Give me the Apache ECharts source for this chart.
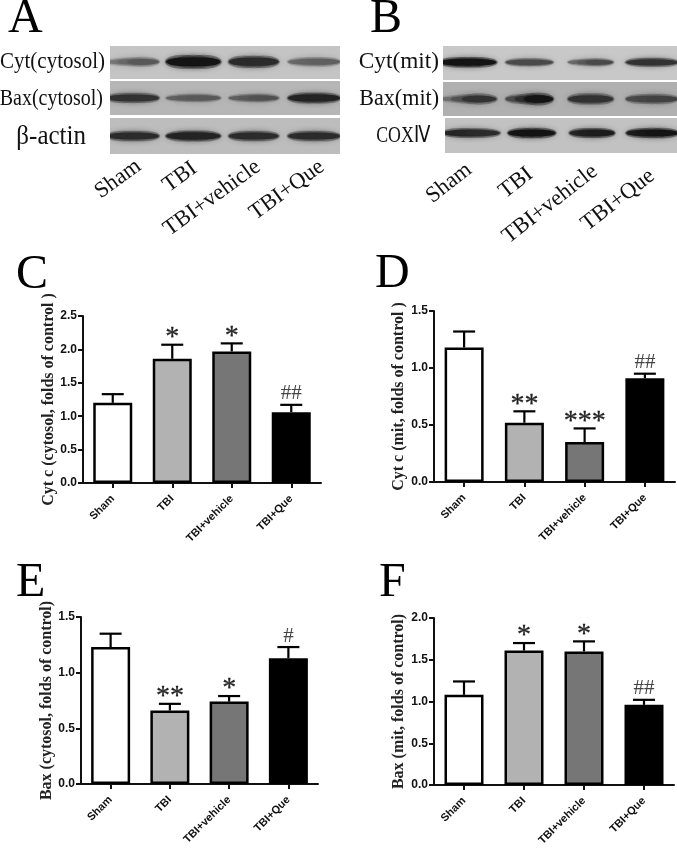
<!DOCTYPE html>
<html><head><meta charset="utf-8">
<style>html,body{margin:0;padding:0;background:#fff}#c{width:677px;height:850px}</style>
<script src="https://cdn.jsdelivr.net/npm/echarts@6/dist/echarts.min.js"></script>
</head><body><div id="c"></div>
<script>
const categories = ['Sham','TBI','TBI+vehicle','TBI+Que'];
const barFills = ['#ffffff','#b2b2b2','#767676','#000000'];

const cValues = [1.20,1.86,1.97,1.06];
const cErrTop = [1.33,2.07,2.09,1.17];
const cMarks  = ['','*','*','##'];

const dValues = [1.18,0.52,0.35,0.91];
const dErrTop = [1.32,0.62,0.47,0.95];
const dMarks  = ['','**','***','##'];

const eValues = [1.23,0.66,0.74,1.13];
const eErrTop = [1.35,0.72,0.79,1.23];
const eMarks  = ['','**','*','#'];

const fValues = [1.08,1.61,1.60,0.96];
const fErrTop = [1.24,1.70,1.72,1.02];
const fMarks  = ['','*','*','##'];

// Blot band densities per lane: [left lobe, right lobe]
const blotCytCytosol = [[0.35,0.55],[1.0,1.0],[0.85,0.85],[0.45,0.5]];
const blotBaxCytosol = [[0.8,0.8],[0.5,0.55],[0.5,0.6],[0.9,0.9]];
const blotActin      = [[0.85,0.85],[0.9,0.9],[0.85,0.85],[0.85,0.85]];
const blotCytMit     = [[1.0,1.0],[0.65,0.65],[0.45,0.65],[0.8,0.8]];
const blotBaxMit     = [[0.4,0.8],[0.65,1.0],[0.8,0.8],[0.65,0.7]];
const blotCox        = [[0.9,0.85],[1.0,1.0],[0.9,0.95],[0.95,1.0]];

const rowLabelsA = ['Cyt(cytosol)','Bax(cytosol)','β-actin'];
const rowLabelsB = ['Cyt(mit)','Bax(mit)','COXⅣ'];
const panelLetters = ['A','B','C','D','E','F'];
const yNames = ['Cyt c (cytosol, folds of control )','Cyt c (mit, folds of control )','Bax (cytosol, folds of control)','Bax (mit, folds of control)'];
const yMaxes = [2.5,1.5,1.5,2.0];

const grid=[],xAxis=[],yAxis=[],series=[],graphic=[];
const SERIF='"Liberation Serif","Times New Roman",serif', SANS='"Liberation Sans",Arial,sans-serif';

function txt(text,x,y,size,opt){
  opt=opt||{};
  graphic.push({type:'text',x,y,rotation:opt.rot||0,scaleX:opt.sx||1,scaleY:opt.sy||1,silent:true,
    style:{text,font:(opt.weight||'normal')+' '+size+'px '+SERIF,fill:opt.fill||'#111',
      textAlign:opt.align||'left',textVerticalAlign:opt.va||'middle',align:opt.align||'left',verticalAlign:opt.va||'middle'}});
}

function addBlot(box,bg,density,widths,thick){
  const idx=grid.length;
  grid.push({left:box[0],top:box[1],width:box[2]-box[0],height:box[3]-box[1],show:true,backgroundColor:bg,borderWidth:0,containLabel:false});
  xAxis.push({type:'value',gridIndex:idx,min:box[4],max:box[5],show:false});
  yAxis.push({type:'value',gridIndex:idx,min:0,max:1,show:false});
  series.push({type:'custom',xAxisIndex:idx,yAxisIndex:idx,silent:true,clip:true,
    data:density.map((d,i)=>[i,box[6]||0.5,d[0],d[1]]),
    encode:{x:0,y:1},
    renderItem:(p,api)=>{
      const c=api.coord([api.value(0),api.value(1)]);
      const w=widths[p.dataIndex], halo=[], core=[];
      const l=api.value(2), r=api.value(3);
      [[-0.22,l],[0,(l+r)/2],[0.22,r]].forEach(([o,v])=>{
        const cx=c[0]+o*w, ry=thick*(0.35+0.6*v), rx=w*0.30;
        const dark=Math.round(170-150*v);
        const h=Math.min(dark+35,175);
        halo.push({type:'ellipse',shape:{cx,cy:c[1],rx:rx*1.25,ry:ry*1.25},
          style:{fill:`rgba(${h},${h},${h},0.5)`,shadowBlur:5,shadowColor:`rgba(${h},${h},${h},0.6)`}});
        core.push({type:'ellipse',shape:{cx,cy:c[1],rx:rx*1.15,ry:ry*0.72},
          style:{fill:`rgb(${dark},${dark},${dark})`,shadowBlur:2,shadowColor:`rgb(${dark},${dark},${dark})`}});
      });
      return {type:'group',children:halo.concat(core)};
    }});
}

// Panel A blots
const wA=[46,48,44,46], wB=[50,42,40,46];
addBlot([110,46,340,79,-0.38,3.43,0.52],'#c4c4c4',blotCytCytosol,wA,6);
addBlot([110,81,340,115,-0.38,3.43,0.5],'#b6b6b6',blotBaxCytosol,wA,5);
addBlot([110,118,340,154,-0.38,3.43,0.5],'#bdbdbd',blotActin,wA,5);
// Panel B blots
addBlot([443,46,677,80,-0.41,3.41,0.52],'#c8c8c8',blotCytMit,wB,4.5);
addBlot([443,82,677,116,-0.41,3.41,0.5],'#b0b0b0',blotBaxMit,wB,5.5);
addBlot([445,118,677,153,-0.44,3.41,0.57],'#c2c2c2',blotCox,wB,4.5);

function addBars(box,values,errTop,marks,yMax,name,nameGap){
  const idx=grid.length;
  grid.push({left:box[0],top:box[1],width:box[2]-box[0],height:box[3]-box[1],containLabel:false});
  xAxis.push({type:'category',gridIndex:idx,data:categories,
    axisLine:{show:true,lineStyle:{color:'#111',width:2}},
    axisTick:{show:true,alignWithLabel:true,length:5,lineStyle:{color:'#111',width:2}},
    axisLabel:{rotate:45,interval:0,margin:14,color:'#111',fontFamily:SANS,fontWeight:'bold',fontSize:11}});
  yAxis.push({type:'value',gridIndex:idx,min:0,max:yMax,interval:0.5,splitLine:{show:false},
    name,nameLocation:'middle',nameGap,nameRotate:90,
    nameTextStyle:{fontFamily:SERIF,fontWeight:'bold',fontSize:16,color:'#222'},
    axisLine:{show:true,onZero:false,lineStyle:{color:'#111',width:2}},
    axisTick:{show:true,length:5,lineStyle:{color:'#111',width:2}},
    axisLabel:{margin:6,color:'#111',fontFamily:SANS,fontWeight:'bold',fontSize:12,formatter:v=>v.toFixed(1)}});
  series.push({type:'bar',xAxisIndex:idx,yAxisIndex:idx,barWidth:39,silent:true,z:2,
    data:values.map((v,i)=>({value:v,itemStyle:{color:barFills[i],borderColor:'#000',borderWidth:2.5}}))});
  series.push({type:'custom',xAxisIndex:idx,yAxisIndex:idx,silent:true,z:3,clip:false,
    data:values.map((v,i)=>[i,v,errTop[i]]),
    encode:{x:0,y:[1,2]},
    renderItem:(p,api)=>{
      const lo=api.coord([api.value(0),api.value(1)]), hi=api.coord([api.value(0),api.value(2)]);
      const ln={stroke:'#000',lineWidth:2.2};
      const kids=[
        {type:'line',shape:{x1:lo[0],y1:lo[1],x2:hi[0],y2:hi[1]},style:ln},
        {type:'line',shape:{x1:hi[0]-11,y1:hi[1],x2:hi[0]+11,y2:hi[1]},style:ln}
      ];
      const m=marks[p.dataIndex];
      if(m){
        const star=m[0]==='*';
        kids.push({type:'text',style:{x:hi[0],y:star?hi[1]-7:hi[1]-11,text:m,
          font:(star?'28px ':'21px ')+SERIF,fill:star?'#222':'#444',align:'center',verticalAlign:'middle',
          stroke:star?'#222':'none',lineWidth:star?0.3:0}});
      }
      return {type:'group',children:kids};
    }});
}
addBars([83,316,321,483],cValues,cErrTop,cMarks,yMaxes[0],yNames[0],21);
addBars([434,311,675,482],dValues,dErrTop,dMarks,yMaxes[1],yNames[1],27);
addBars([81,617,318,784],eValues,eErrTop,eMarks,yMaxes[2],yNames[2],22);
addBars([434,618,674,785],fValues,fErrTop,fMarks,yMaxes[3],yNames[3],27);

// Panel letters
const letterPos=[[8,43],[370,43],[16,299],[375,298],[16,607],[379,607]];
panelLetters.forEach((l,i)=>txt(l,letterPos[i][0],letterPos[i][1],48,{va:'bottom',fill:'#000'}));

// Row labels
txt(rowLabelsA[0],105,62,21,{align:'right',sy:1.1});
txt(rowLabelsA[1],103,99,20,{align:'right',sy:1.12});
txt(rowLabelsA[2],86,137,25,{align:'right',sy:1.1});
txt(rowLabelsB[0],439,62,24,{align:'right',sx:0.97});
txt(rowLabelsB[1],439,99,24,{align:'right',sx:0.92});
txt(rowLabelsB[2],430,136,21,{align:'right',sx:0.85,sy:1.1});

// Rotated lane labels over the blots
const laneA=[[118,179],[180,177],[212,198],[287,190]], laneB=[[449,183],[516,183],[550,204],[618,200]];
categories.forEach((c,i)=>txt(c,laneA[i][0],laneA[i][1],22.5,{align:'center',rot:36*Math.PI/180}));
categories.forEach((c,i)=>txt(c,laneB[i][0],laneB[i][1],22.5,{align:'center',rot:38*Math.PI/180}));

const chart=echarts.init(document.getElementById('c'),null,{renderer:'canvas'});
chart.setOption({animation:false,backgroundColor:'#fff',grid,xAxis,yAxis,series,graphic:{elements:graphic}});
</script></body></html>
